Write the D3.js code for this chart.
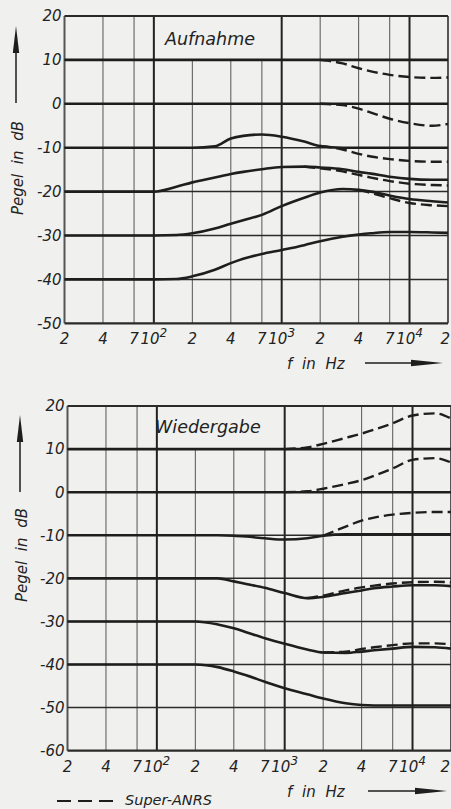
<!DOCTYPE html>
<html>
<head>
<meta charset="utf-8">
<script src="https://cdn.jsdelivr.net/npm/d3@7"></script>
<style>
  html, body { margin: 0; padding: 0; background: #f0f0ee; }
  svg { display: block; }
  text { font-family: "DejaVu Sans", sans-serif; font-style: italic; fill: #222; }
</style>
</head>
<body>
<div id="chart"></div>
<script>
// ANRS / Super-ANRS characteristics, record (Aufnahme) and playback (Wiedergabe)

var width = 451,
	height = 809;

// frequency points the curves were read at (Hz)
var freqs = [20, 50, 100, 150, 200, 300, 400, 500, 700, 1000, 1500, 2000, 3000, 4000, 5000, 7000, 10000, 15000, 20000];

// x ticks: 2, 4, 7 and decades
var x_tick_freqs = [20, 40, 70, 100, 200, 400, 700, 1000, 2000, 4000, 7000, 10000, 20000];
var x_tick_labels = ["2", "4", "7", "10", "2", "4", "7", "10", "2", "4", "7", "10", "2"];
var x_tick_sups = ["", "", "", "2", "", "", "", "3", "", "", "", "4", ""];
var x_decades = [100, 1000, 10000];

var rec_ticks_y = [20, 10, 0, -10, -20, -30, -40, -50];
var pb_ticks_y = [20, 10, 0, -10, -20, -30, -40, -50, -60];

// Aufnahme, ANRS (solid)
var rec_solid_10 = [10, 10, 10, 10, 10, 10, 10, 10, 10, 10, 10, 10, 10, 10, 10, 10, 10, 10, 10];
var rec_solid_0 = [0, 0, 0, 0, 0, 0, 0, 0, 0, 0, 0, 0, 0, 0, 0, 0, 0, 0, 0];
var rec_solid_m10 = [-10, -10, -10, -10, -10, -9.7, -7.9, -7.3, -7.0, -7.5, -8.6, -9.6, -10, -10, -10, -10, -10, -10, -10];
var rec_solid_m20 = [-20, -20, -20, -18.9, -17.9, -16.8, -16.0, -15.5, -14.9, -14.4, -14.3, -14.5, -14.9, -15.5, -15.9, -16.6, -17.1, -17.3, -17.3];
var rec_solid_m30 = [-30, -30, -30, -29.9, -29.5, -28.4, -27.3, -26.5, -25.3, -23.3, -21.4, -20.2, -19.4, -19.6, -20.0, -20.9, -21.7, -22.2, -22.5];
var rec_solid_m40 = [-40, -40, -40, -39.9, -39.3, -37.8, -36.3, -35.3, -34.2, -33.3, -32.2, -31.3, -30.3, -29.8, -29.5, -29.2, -29.2, -29.3, -29.4];

// Aufnahme, Super-ANRS (dashed)
var rec_dash_10 = [null, null, null, null, null, null, null, null, null, null, null, 10, 9.2, 8.1, 7.4, 6.6, 6.1, 5.9, 6.0];
var rec_dash_0 = [null, null, null, null, null, null, null, null, null, null, null, 0, -0.3, -1.1, -2.0, -3.4, -4.4, -5.0, -4.6];
var rec_dash_m10 = [null, null, null, null, null, null, null, null, null, null, null, -9.6, -10.4, -11.4, -12.0, -12.6, -13.0, -13.2, -13.2];
var rec_dash_m20 = [null, null, null, null, null, null, null, null, null, null, -14.3, -14.7, -15.4, -16.2, -16.8, -17.6, -18.2, -18.5, -18.6];
var rec_dash_m30 = [null, null, null, null, null, null, null, null, null, null, null, null, null, -19.6, -20.3, -21.5, -22.6, -23.1, -23.3];

// Wiedergabe, ANRS (solid)
var pb_solid_10 = [10, 10, 10, 10, 10, 10, 10, 10, 10, 10, 10, 10, 10, 10, 10, 10, 10, 10, 10];
var pb_solid_0 = [0, 0, 0, 0, 0, 0, 0, 0, 0, 0, 0, 0, 0, 0, 0, 0, 0, 0, 0];
var pb_solid_m10 = [-10, -10, -10, -10, -10, -10, -10.1, -10.3, -10.7, -11.0, -10.7, -10.1, -9.8, -9.8, -9.8, -9.8, -9.8, -9.8, -9.8];
var pb_solid_m20 = [-20, -20, -20, -20, -20, -20, -20.7, -21.3, -22.2, -23.4, -24.6, -24.3, -23.4, -22.8, -22.3, -21.9, -21.6, -21.6, -21.8];
var pb_solid_m30 = [-30, -30, -30, -30, -30, -30.7, -31.6, -32.5, -33.9, -35.2, -36.5, -37.2, -37.3, -37.0, -36.7, -36.3, -35.9, -36.0, -36.3];
var pb_solid_m40 = [-40, -40, -40, -40, -40, -40.6, -41.6, -42.5, -44.0, -45.5, -46.9, -47.9, -49.0, -49.4, -49.5, -49.5, -49.5, -49.5, -49.5];

// Wiedergabe, Super-ANRS (dashed)
var pb_dash_10 = [null, null, null, null, null, null, null, null, null, 10, 10.4, 11.2, 12.6, 13.6, 14.5, 16.0, 17.8, 18.3, 17.1];
var pb_dash_0 = [null, null, null, null, null, null, null, null, null, 0, 0.2, 0.8, 1.9, 2.8, 3.8, 5.5, 7.5, 7.9, 6.9];
var pb_dash_m10 = [null, null, null, null, null, null, null, null, null, null, null, -10.1, -8.0, -6.6, -5.9, -5.2, -4.8, -4.6, -4.6];
var pb_dash_m20 = [null, null, null, null, null, null, null, null, null, null, -24.6, -24.0, -22.8, -22.1, -21.7, -21.2, -20.9, -20.8, -20.9];
var pb_dash_m30 = [null, null, null, null, null, null, null, null, null, null, null, -37.2, -37.0, -36.4, -36.0, -35.5, -35.1, -35.1, -35.3];

var panels = [
	{
		title: "Aufnahme", title_x: 165, title_y: 45,
		left: 64.5, right: 448, top: 16, bottom: 323.3,
		y_domain: [-50, 20], ticks_y: rec_ticks_y,
		solids: [rec_solid_10, rec_solid_0, rec_solid_m10, rec_solid_m20, rec_solid_m30, rec_solid_m40],
		dashes: [rec_dash_10, rec_dash_0, rec_dash_m10, rec_dash_m20, rec_dash_m30],
		y_arrow_x: 16, y_arrow_tip: 26, y_arrow_end: 103, y_label_mid: 168,
		x_arrow_y: 363, x_arrow_start: 365, x_arrow_tip: 443
	},
	{
		title: "Wiedergabe", title_x: 155, title_y: 433,
		left: 67.5, right: 451, top: 406, bottom: 750.7,
		y_domain: [-60, 20], ticks_y: pb_ticks_y,
		solids: [pb_solid_10, pb_solid_0, pb_solid_m10, pb_solid_m20, pb_solid_m30, pb_solid_m40],
		dashes: [pb_dash_10, pb_dash_0, pb_dash_m10, pb_dash_m20, pb_dash_m30],
		y_arrow_x: 20, y_arrow_tip: 415, y_arrow_end: 492, y_label_mid: 555,
		x_arrow_y: 791, x_arrow_start: 368, x_arrow_tip: 447
	}
];

var svg = d3.select("#chart")
	.append("svg")
	.attr("width", width)
	.attr("height", height);

var ink = "#1e1e1e";

function draw_panel(p) {
	var x = d3.scaleLog().domain([20, 20000]).range([p.left, p.right]);
	var y = d3.scaleLinear().domain(p.y_domain).range([p.bottom, p.top]);
	var g = svg.append("g");

	// vertical grid; minor lines stop under the title box between 10^2 and 10^3
	g.selectAll("line.vx")
		.data(x_tick_freqs)
		.enter().append("line")
		.attr("x1", function(f) { return x(f); })
		.attr("x2", function(f) { return x(f); })
		.attr("y1", function(f) {
			if (f > 100 && f < 1000) return y(10);
			return p.top;
		})
		.attr("y2", p.bottom)
		.attr("stroke", function(f) { return x_decades.indexOf(f) >= 0 ? "#222" : "#555"; })
		.attr("stroke-width", function(f) {
			if (x_decades.indexOf(f) >= 0) return 2;
			if (f == 20 || f == 20000) return 2;
			return 1;
		});

	// horizontal grid every 10 dB
	g.selectAll("line.hy")
		.data(p.ticks_y)
		.enter().append("line")
		.attr("x1", p.left)
		.attr("x2", p.right)
		.attr("y1", function(v) { return y(v); })
		.attr("y2", function(v) { return y(v); })
		.attr("stroke", "#2a2a2a")
		.attr("stroke-width", function(v) {
			return (v == p.y_domain[0] || v == p.y_domain[1]) ? 2.2 : 1.5;
		});

	// y tick labels
	g.selectAll("text.yt")
		.data(p.ticks_y)
		.enter().append("text")
		.attr("x", p.left - 3)
		.attr("y", function(v) { return y(v); })
		.attr("dy", "0.36em")
		.attr("text-anchor", "end")
		.attr("font-size", 15)
		.text(function(v) { return v; });

	// x tick labels, decades get a superscript exponent;
	// the last one sits at the page edge, so it is right-aligned there
	var last = x_tick_freqs.length - 1;
	var xt = g.selectAll("text.xt")
		.data(x_tick_freqs)
		.enter().append("text")
		.attr("x", function(f, i) { return i == last ? width - 1 : x(f); })
		.attr("y", p.bottom + 21)
		.attr("text-anchor", function(f, i) { return i == last ? "end" : "middle"; })
		.attr("font-size", 15);
	xt.append("tspan")
		.text(function(f, i) { return x_tick_labels[i]; });
	xt.filter(function(f, i) { return x_tick_sups[i] != ""; })
		.append("tspan")
		.attr("dy", -7)
		.attr("font-size", 12)
		.text(function(f) { return x_tick_sups[x_tick_freqs.indexOf(f)]; });

	// title
	g.append("text")
		.attr("x", p.title_x)
		.attr("y", p.title_y)
		.attr("font-size", 17.5)
		.text(p.title);

	var line = d3.line()
		.defined(function(d) { return d[1] != null; })
		.x(function(d) { return x(d[0]); })
		.y(function(d) { return y(d[1]); })
		.curve(d3.curveMonotoneX);

	function pairs(vals) {
		return freqs.map(function(f, i) { return [f, vals[i]]; });
	}

	g.selectAll("path.solid")
		.data(p.solids)
		.enter().append("path")
		.attr("d", function(d) { return line(pairs(d)); })
		.attr("fill", "none")
		.attr("stroke", ink)
		.attr("stroke-width", 2.6);

	g.selectAll("path.dash")
		.data(p.dashes)
		.enter().append("path")
		.attr("d", function(d) { return line(pairs(d)); })
		.attr("fill", "none")
		.attr("stroke", ink)
		.attr("stroke-width", 2.4)
		.attr("stroke-dasharray", "11,5");

	// y axis caption with arrow
	g.append("line")
		.attr("x1", p.y_arrow_x).attr("x2", p.y_arrow_x)
		.attr("y1", p.y_arrow_tip + 20).attr("y2", p.y_arrow_end)
		.attr("stroke", ink).attr("stroke-width", 1.5);
	g.append("path")
		.attr("d", "M" + p.y_arrow_x + "," + p.y_arrow_tip +
			"L" + (p.y_arrow_x + 3.2) + "," + (p.y_arrow_tip + 27) +
			"L" + (p.y_arrow_x - 3.2) + "," + (p.y_arrow_tip + 27) + "Z")
		.attr("fill", ink);
	g.append("text")
		.attr("transform", "translate(" + (p.y_arrow_x + 7) + "," + p.y_label_mid + ") rotate(-90)")
		.attr("text-anchor", "middle")
		.attr("font-size", 15)
		.attr("word-spacing", 5)
		.text("Pegel in dB");

	// x axis caption with arrow
	g.append("text")
		.attr("x", 287)
		.attr("y", p.x_arrow_y + 6)
		.attr("font-size", 15)
		.attr("word-spacing", 5)
		.text("f in Hz");
	g.append("line")
		.attr("x1", p.x_arrow_start).attr("x2", p.x_arrow_tip - 20)
		.attr("y1", p.x_arrow_y).attr("y2", p.x_arrow_y)
		.attr("stroke", ink).attr("stroke-width", 1.5);
	g.append("path")
		.attr("d", "M" + p.x_arrow_tip + "," + p.x_arrow_y +
			"L" + (p.x_arrow_tip - 32) + "," + (p.x_arrow_y - 3.2) +
			"L" + (p.x_arrow_tip - 32) + "," + (p.x_arrow_y + 3.2) + "Z")
		.attr("fill", ink);
}

panels.forEach(draw_panel);

// legend
svg.append("line")
	.attr("x1", 57).attr("x2", 113)
	.attr("y1", 801).attr("y2", 801)
	.attr("stroke", ink)
	.attr("stroke-width", 2.2)
	.attr("stroke-dasharray", "14,7");
svg.append("text")
	.attr("x", 125)
	.attr("y", 805)
	.attr("font-size", 14.5)
	.text("Super-ANRS");
</script>
</body>
</html>
